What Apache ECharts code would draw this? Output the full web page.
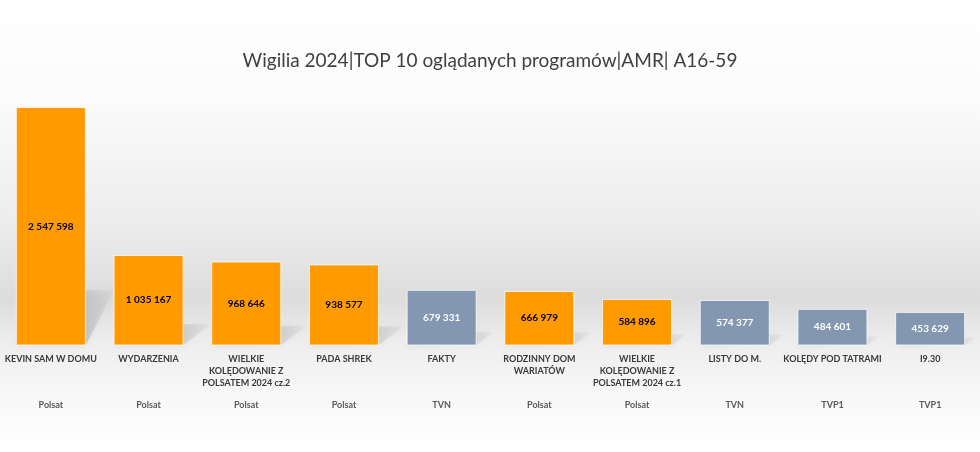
<!DOCTYPE html>
<html><head><meta charset="utf-8">
<script src="https://cdn.jsdelivr.net/npm/echarts@6/dist/echarts.min.js"></script>
<style>html,body{margin:0;padding:0;background:#fff}#c{width:980px;height:452px}</style>
</head><body><div id="c"></div>
<script>
var programs = ["KEVIN SAM W DOMU","WYDARZENIA","WIELKIE\nKOLĘDOWANIE Z\nPOLSATEM 2024 cz.2","PADA SHREK","FAKTY","RODZINNY DOM\nWARIATÓW","WIELKIE\nKOLĘDOWANIE Z\nPOLSATEM 2024 cz.1","LISTY DO M.","KOLĘDY POD TATRAMI","I9.30"];
var channels = ["Polsat","Polsat","Polsat","Polsat","TVN","Polsat","Polsat","TVN","TVP1","TVP1"];
var amr = [2547598,1035167,968646,938577,679331,666979,584896,574377,484601,453629];
var channelColors = {"Polsat":"#FF9A00","TVN":"#8497B0","TVP1":"#8497B0"};
var labelColors = {"Polsat":"#000000","TVN":"#ffffff","TVP1":"#ffffff"};

var AXIS_MIN = 115000;
function fmt(v){return String(v).replace(/\B(?=(\d{3})+(?!\d))/g,' ');}

var barData = amr.map(function(v,i){
  return {value:v,itemStyle:{color:channelColors[channels[i]]},
          label:{color:labelColors[channels[i]]}};
});
var shadowData = amr.map(function(v,i){return [i,v];});

var chart = echarts.init(document.getElementById('c'),null,{renderer:'canvas'});
chart.setOption({
  animation:false,
  backgroundColor:{type:'linear',x:0,y:0,x2:0,y2:1,colorStops:[
    {offset:0,color:'#ffffff'},{offset:0.22,color:'#fbfbfb'},
    {offset:0.5,color:'#ececec'},{offset:0.66,color:'#dcdcdc'},
    {offset:0.76,color:'#eeeeee'},{offset:0.88,color:'#f8f8f8'},
    {offset:1,color:'#ffffff'}]},
  title:{text:'Wigilia 2024|TOP 10 oglądanych programów|AMR| A16-59',left:'center',top:46,
    textStyle:{fontFamily:'Lato',fontWeight:'normal',fontSize:19,color:'#404040'}},
  grid:{left:2,right:1,top:100,bottom:107},
  xAxis:[{type:'category',data:programs,position:'bottom',
      axisLine:{show:false},axisTick:{show:false},
      axisLabel:{interval:0,margin:8,fontFamily:'Lato',fontWeight:'bold',fontSize:9,color:'#3a3a3a',lineHeight:12,verticalAlign:'top'}},
    {type:'category',data:channels,position:'bottom',offset:0,
      axisLine:{show:false},axisTick:{show:false},
      axisLabel:{interval:0,margin:56,fontFamily:'Lato',fontWeight:'bold',fontSize:9,color:'#595959',verticalAlign:'top'}}],
  yAxis:{type:'value',min:AXIS_MIN,max:2620000,show:false,splitLine:{show:false}},
  series:[
    {type:'custom',xAxisIndex:0,z:1,data:shadowData,silent:true,
     renderItem:function(params,api){
       var top=api.coord([api.value(0),api.value(1)]);
       var base=api.coord([api.value(0),AXIS_MIN]);
       var h=base[1]-top[1];
       var half=35;
       var xL=base[0]-half,xR=base[0]+half,y=base[1];
       var dy=Math.min(h*0.23,60),dx=Math.min(h*0.3,28);
       return {type:'polygon',shape:{points:[[xL,y],[xR,y],[xR+dx,y-dy],[xL+dx,y-dy]]},
         style:{fill:new echarts.graphic.LinearGradient(0,1,1,0,[
           {offset:0,color:'rgba(80,80,80,0.55)'},{offset:1,color:'rgba(150,150,150,0.08)'}]),
           shadowBlur:6,shadowColor:'rgba(0,0,0,0.18)'}};
     }},
    {type:'bar',xAxisIndex:0,z:2,barWidth:70,data:barData,
     itemStyle:{borderColor:'rgba(255,255,255,0.75)',borderWidth:1},
     label:{show:true,position:'inside',fontFamily:'Lato',fontWeight:'bold',fontSize:10,
       formatter:function(p){return fmt(p.value);}}}
  ]
});
</script></body></html>
